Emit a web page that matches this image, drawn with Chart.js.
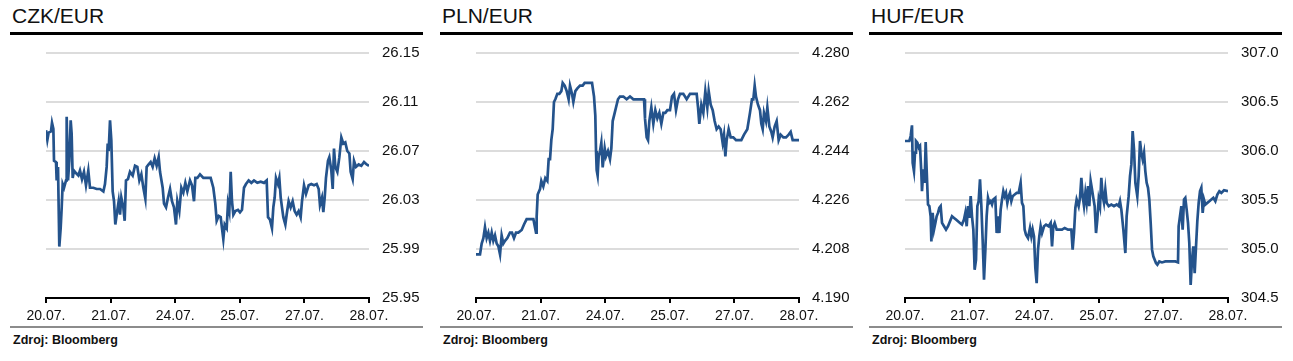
<!DOCTYPE html>
<html>
<head>
<meta charset="utf-8">
<script src="https://cdn.jsdelivr.net/npm/chart.js@4.4.0/dist/chart.umd.min.js"></script>
<style>
  body { margin: 0; background: #fff; width: 1293px; height: 361px; overflow: hidden; position: relative;
         font-family: "Liberation Sans", Arial, sans-serif; color: #111; }
  .panel { position: absolute; top: 0; width: 413px; height: 361px; }
  .title { position: absolute; left: 2px; top: 4px; font-size: 21px; line-height: 24px; }
  .rule { position: absolute; left: 0; top: 32px; width: 413px; height: 3px; background: #000; }
  .chartbox { position: absolute; left: 0; top: 36px; }
  .srcline { position: absolute; left: 0; top: 326px; width: 413px; height: 2px; background: #8c8c8c; }
  .src { position: absolute; left: 3px; top: 333px; font-size: 12.5px; line-height: 14px; font-weight: bold; }
</style>
</head>
<body>
<div class="panel" style="left:10px">
  <div class="title">CZK/EUR</div>
  <div class="rule"></div>
  <div class="chartbox"><canvas id="czkChart" width="413" height="290"></canvas></div>
  <div class="srcline"></div>
  <div class="src">Zdroj: Bloomberg</div>
</div>
<div class="panel" style="left:440px">
  <div class="title">PLN/EUR</div>
  <div class="rule"></div>
  <div class="chartbox"><canvas id="plnChart" width="413" height="290"></canvas></div>
  <div class="srcline"></div>
  <div class="src">Zdroj: Bloomberg</div>
</div>
<div class="panel" style="left:869px">
  <div class="title">HUF/EUR</div>
  <div class="rule"></div>
  <div class="chartbox"><canvas id="hufChart" width="413" height="290"></canvas></div>
  <div class="srcline"></div>
  <div class="src">Zdroj: Bloomberg</div>
</div>
<script>
// popisky dni na ose x (obchodni dny, stejne rozestupy)
const dayLabels = ["20.07.", "21.07.", "24.07.", "25.07.", "27.07.", "28.07."];

// CZK/EUR - cas v obchodnich dnech od 20.07.
const czkTimes = [0,0.021,0.041,0.077,0.093,0.114,0.124,0.155,0.165,0.186,0.206,0.227,0.243,0.258,0.279,0.310,0.320,0.341,0.361,0.382,0.397,0.413,0.433,0.464,0.501,0.526,0.557,0.588,0.619,0.655,0.681,0.733,0.784,0.836,0.888,0.913,0.939,0.955,0.970,0.991,1.011,1.032,1.053,1.073,1.094,1.125,1.146,1.166,1.197,1.218,1.238,1.269,1.300,1.342,1.378,1.414,1.445,1.476,1.507,1.538,1.558,1.589,1.620,1.651,1.682,1.713,1.744,1.765,1.806,1.827,1.858,1.889,1.920,1.950,1.981,2.012,2.033,2.064,2.095,2.126,2.157,2.188,2.229,2.260,2.291,2.312,2.343,2.384,2.436,2.487,2.549,2.590,2.621,2.642,2.673,2.704,2.724,2.745,2.766,2.797,2.817,2.838,2.859,2.879,2.900,2.931,2.972,3.003,3.034,3.065,3.096,3.137,3.179,3.220,3.271,3.323,3.375,3.416,3.437,3.467,3.498,3.519,3.540,3.560,3.591,3.612,3.633,3.653,3.674,3.705,3.725,3.756,3.787,3.818,3.849,3.880,3.911,3.942,3.963,3.994,4.025,4.066,4.107,4.149,4.190,4.221,4.241,4.272,4.293,4.314,4.334,4.365,4.386,4.417,4.438,4.458,4.479,4.510,4.541,4.572,4.603,4.633,4.664,4.696,4.716,4.747,4.768,4.799,4.840,4.881,4.923,4.964,5.000];
const czkValues = [26.087,26.079,26.085,26.086,26.093,26.088,26.062,26.061,26.046,26.057,25.992,26.007,26.024,26.043,26.040,26.046,26.098,26.046,26.062,26.095,26.084,26.048,26.054,26.052,26.050,26.054,26.047,26.053,26.042,26.054,26.040,26.040,26.039,26.039,26.037,26.043,26.057,26.076,26.070,26.095,26.079,26.037,26.029,26.010,26.018,26.029,26.018,26.032,26.024,26.013,26.046,26.047,26.053,26.050,26.058,26.057,26.046,26.051,26.040,26.031,26.057,26.059,26.061,26.057,26.064,26.058,26.065,26.053,26.040,26.027,26.024,26.032,26.039,26.029,26.024,26.010,26.029,26.021,26.040,26.036,26.044,26.037,26.046,26.042,26.029,26.048,26.048,26.051,26.048,26.048,26.048,26.040,26.027,26.013,26.017,26.016,26.007,25.998,26.010,26.007,26.027,26.021,26.053,26.029,26.018,26.021,26.022,26.020,26.022,26.040,26.043,26.046,26.044,26.046,26.044,26.045,26.044,26.046,26.016,26.014,26.007,26.024,26.032,26.048,26.043,26.048,26.032,26.024,26.016,26.010,26.018,26.029,26.024,26.029,26.021,26.018,26.021,26.016,26.029,26.042,26.035,26.042,26.043,26.042,26.043,26.039,26.026,26.032,26.020,26.032,26.048,26.062,26.065,26.054,26.039,26.072,26.057,26.053,26.065,26.081,26.076,26.077,26.070,26.068,26.053,26.047,26.062,26.057,26.059,26.058,26.061,26.059,26.058];
const czkTicks = [25.95, 25.99, 26.03, 26.07, 26.11, 26.15];

// PLN/EUR
const plnTimes = [0,0.062,0.088,0.114,0.139,0.165,0.191,0.217,0.243,0.268,0.294,0.320,0.346,0.372,0.397,0.423,0.449,0.485,0.526,0.557,0.588,0.619,0.655,0.707,0.743,0.784,0.836,0.888,0.929,0.939,0.955,0.991,1.011,1.042,1.073,1.104,1.125,1.146,1.166,1.187,1.207,1.228,1.259,1.290,1.321,1.342,1.373,1.404,1.434,1.455,1.486,1.507,1.538,1.569,1.610,1.651,1.682,1.723,1.754,1.796,1.827,1.847,1.858,1.868,1.883,1.899,1.920,1.940,1.961,1.992,2.012,2.043,2.074,2.095,2.116,2.147,2.167,2.198,2.229,2.281,2.332,2.384,2.436,2.487,2.539,2.601,2.616,2.642,2.663,2.683,2.714,2.745,2.776,2.807,2.838,2.869,2.900,2.931,2.962,3.003,3.034,3.065,3.096,3.127,3.158,3.209,3.261,3.313,3.364,3.416,3.437,3.457,3.488,3.519,3.550,3.581,3.602,3.633,3.664,3.694,3.725,3.756,3.787,3.818,3.839,3.860,3.880,3.911,3.942,3.983,4.025,4.066,4.107,4.149,4.200,4.241,4.272,4.293,4.314,4.334,4.365,4.396,4.417,4.438,4.458,4.489,4.510,4.541,4.572,4.592,4.623,4.654,4.685,4.716,4.758,4.799,4.840,4.871,4.902,4.943,5.000];
const plnValues = [4.206,4.206,4.210,4.212,4.216,4.212,4.214,4.211,4.214,4.211,4.213,4.210,4.209,4.206,4.213,4.210,4.211,4.212,4.214,4.214,4.212,4.214,4.214,4.215,4.217,4.219,4.219,4.219,4.214,4.220,4.228,4.230,4.233,4.231,4.234,4.233,4.241,4.241,4.248,4.252,4.262,4.263,4.265,4.265,4.266,4.269,4.268,4.266,4.263,4.268,4.265,4.262,4.266,4.267,4.268,4.268,4.269,4.269,4.269,4.269,4.264,4.257,4.244,4.237,4.235,4.242,4.244,4.247,4.238,4.245,4.242,4.244,4.241,4.245,4.255,4.258,4.260,4.263,4.264,4.264,4.263,4.264,4.263,4.263,4.263,4.263,4.256,4.249,4.248,4.255,4.260,4.254,4.259,4.256,4.258,4.254,4.258,4.258,4.259,4.259,4.264,4.265,4.259,4.263,4.265,4.265,4.263,4.265,4.265,4.265,4.260,4.254,4.261,4.258,4.266,4.260,4.266,4.261,4.259,4.255,4.252,4.253,4.252,4.247,4.250,4.242,4.248,4.252,4.249,4.249,4.248,4.248,4.248,4.250,4.252,4.258,4.263,4.263,4.268,4.264,4.261,4.259,4.254,4.252,4.258,4.255,4.260,4.253,4.251,4.249,4.253,4.255,4.248,4.250,4.249,4.249,4.250,4.251,4.248,4.248,4.248];
const plnTicks = [4.190, 4.208, 4.226, 4.244, 4.262, 4.280];

// HUF/EUR
const hufTimes = [0,0.067,0.088,0.108,0.119,0.139,0.155,0.170,0.191,0.212,0.232,0.253,0.263,0.284,0.304,0.320,0.335,0.356,0.377,0.397,0.408,0.428,0.449,0.470,0.490,0.511,0.531,0.552,0.573,0.604,0.635,0.666,0.697,0.728,0.759,0.789,0.820,0.851,0.882,0.913,0.934,0.955,0.975,0.996,1.017,1.037,1.058,1.078,1.099,1.120,1.140,1.161,1.182,1.202,1.223,1.244,1.264,1.285,1.305,1.326,1.347,1.367,1.398,1.419,1.440,1.460,1.481,1.502,1.522,1.543,1.563,1.584,1.605,1.625,1.646,1.667,1.698,1.729,1.760,1.790,1.811,1.832,1.852,1.873,1.904,1.935,1.956,1.976,1.997,2.018,2.038,2.059,2.079,2.100,2.121,2.152,2.183,2.224,2.255,2.276,2.296,2.317,2.348,2.389,2.430,2.472,2.523,2.575,2.595,2.616,2.637,2.657,2.688,2.709,2.730,2.750,2.771,2.792,2.812,2.833,2.853,2.874,2.895,2.915,2.936,2.957,2.977,2.998,3.019,3.039,3.060,3.080,3.101,3.122,3.153,3.194,3.235,3.277,3.308,3.328,3.349,3.380,3.411,3.431,3.462,3.483,3.504,3.524,3.545,3.566,3.596,3.617,3.638,3.658,3.679,3.700,3.720,3.741,3.762,3.782,3.803,3.824,3.844,3.865,3.885,3.906,3.937,3.978,4.030,4.082,4.133,4.185,4.226,4.236,4.257,4.278,4.298,4.319,4.339,4.360,4.381,4.401,4.422,4.443,4.463,4.484,4.505,4.525,4.546,4.567,4.587,4.608,4.628,4.649,4.680,4.711,4.742,4.773,4.804,4.835,4.866,4.897,4.938,5.000];
const hufValues = [306.102,306.102,306.153,306.262,305.880,305.795,305.983,306.102,306.085,306.034,306.051,305.778,305.590,305.812,305.675,306.092,305.812,305.454,305.437,305.334,305.078,305.368,305.198,305.266,305.334,305.368,305.419,305.437,305.266,305.232,305.198,305.232,305.283,305.334,305.317,305.300,305.283,305.266,305.249,305.300,305.368,305.232,305.437,305.317,305.539,305.334,305.198,304.788,304.890,305.437,305.488,305.710,305.437,305.095,304.686,304.993,305.334,305.522,305.471,305.488,305.454,305.505,305.522,305.163,305.334,305.163,305.402,305.505,305.590,305.539,305.573,305.471,305.539,305.573,305.488,305.539,305.556,305.573,305.573,305.675,305.471,305.437,305.198,305.146,305.112,305.215,305.129,305.198,305.129,304.805,304.652,304.993,305.129,305.232,305.163,305.232,305.249,305.232,305.266,305.027,305.232,305.266,305.198,305.198,305.198,305.215,305.198,305.198,304.993,305.163,305.419,305.505,305.437,305.522,305.727,305.539,305.437,305.573,305.471,305.641,305.437,305.692,305.607,305.522,305.437,305.163,305.300,305.505,305.437,305.727,305.539,305.471,305.607,305.471,305.437,305.454,305.437,305.454,305.437,305.488,305.402,305.198,304.959,305.334,305.539,305.744,305.863,306.204,306.017,305.675,305.539,305.744,306.102,305.983,305.914,305.983,305.795,305.675,305.624,305.505,305.266,304.993,304.925,304.890,304.856,304.839,304.873,304.863,304.873,304.873,304.873,304.873,304.863,305.232,305.334,305.437,305.198,305.505,305.522,305.402,305.266,305.061,304.634,304.890,305.027,304.754,305.027,305.283,305.471,305.590,305.624,305.368,305.505,305.454,305.471,305.488,305.505,305.522,305.488,305.556,305.590,305.573,305.600,305.590];
const hufTicks = [304.5, 305.0, 305.5, 306.0, 306.5, 307.0];

const lineColor = "#24538c";
const fontFamily = '"Liberation Sans", Arial, sans-serif';

function makeChart(id, times, values, yTicks, decimals) {
  let points = times.map((t, i) => ({ x: t, y: values[i] }));
  return new Chart(id, {
    type: "line",
    data: {
      datasets: [{
        data: points,
        borderColor: lineColor,
        borderWidth: 2.7,
        pointRadius: 0,
        tension: 0,
        fill: false,
      }],
    },
    options: {
      responsive: false,
      animation: false,
      layout: { padding: { left: 36, right: 3, top: 17, bottom: 2 } },
      plugins: { legend: { display: false }, tooltip: { enabled: false } },
      scales: {
        x: {
          type: "linear",
          min: 0,
          max: dayLabels.length - 1,
          afterBuildTicks: (axis) => { axis.ticks = dayLabels.map((_, i) => ({ value: i })); },
          afterFit: (axis) => { axis.height = 26; axis.paddingLeft = 0; axis.paddingRight = 0; },
          ticks: {
            autoSkip: false,
            maxRotation: 0,
            padding: 5,
            color: "#111",
            font: { family: fontFamily, size: 14 },
            callback: (v) => dayLabels[v],
          },
          grid: { drawOnChartArea: false, drawTicks: true, tickLength: 5, color: "#000", lineWidth: 2 },
          border: { display: true, color: "#000", width: 2 },
        },
        y: {
          position: "right",
          min: yTicks[0],
          max: yTicks[yTicks.length - 1],
          afterBuildTicks: (axis) => { axis.ticks = yTicks.map((v) => ({ value: v })); },
          afterFit: (axis) => { axis.width = 51; axis.paddingTop = 0; axis.paddingBottom = 0; },
          ticks: {
            padding: 13,
            color: "#111",
            font: { family: fontFamily, size: 15 },
            callback: (v) => v.toFixed(decimals),
          },
          grid: { color: "#dcdcdc", lineWidth: 2, drawTicks: false },
          border: { display: false },
        },
      },
    },
  });
}

makeChart("czkChart", czkTimes, czkValues, czkTicks, 2);
makeChart("plnChart", plnTimes, plnValues, plnTicks, 3);
makeChart("hufChart", hufTimes, hufValues, hufTicks, 1);
</script>
</body>
</html>
